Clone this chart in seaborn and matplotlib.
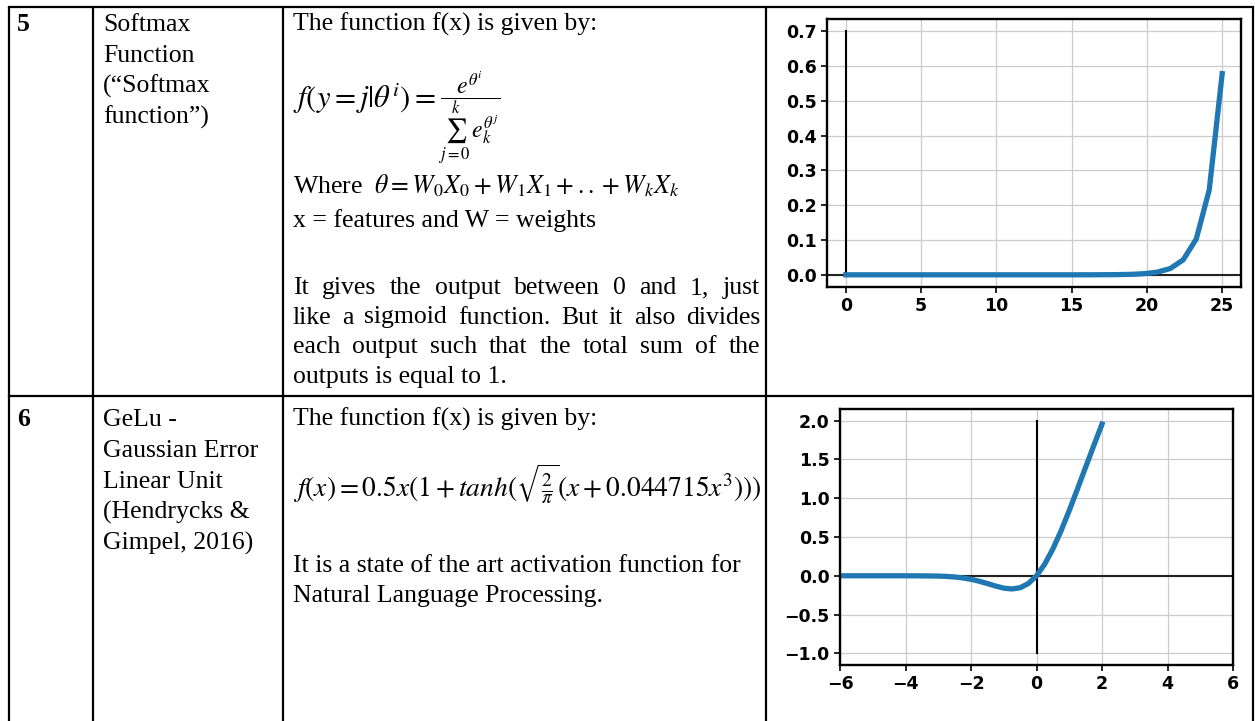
import matplotlib
matplotlib.use("Agg")
import matplotlib.pyplot as plt
from matplotlib.ticker import MultipleLocator
import seaborn as sns

# ---- data ----
softmax_x = [0.0, 0.86, 1.72, 2.59, 3.45, 4.31, 5.17, 6.03, 6.90, 7.76,
             8.62, 9.48, 10.34, 11.21, 12.07, 12.93, 13.79, 14.66, 15.52, 16.38,
             17.24, 18.10, 18.97, 19.83, 20.69, 21.55, 22.41, 23.28, 24.14, 25.0]
softmax_y = [0.0, 0.0, 0.0, 0.0, 0.0, 0.0, 0.0, 0.0, 0.0, 0.0,
             0.0, 0.0, 0.0, 0.0, 0.0, 0.0, 0.0, 0.0, 0.0, 0.0001,
             0.0003, 0.0006, 0.0014, 0.0033, 0.0077, 0.018, 0.043, 0.103, 0.244, 0.578]

gelu_x = [-6.0, -5.0, -4.0, -3.5, -3.0, -2.75, -2.5, -2.25, -2.0, -1.75, -1.5, -1.25,
          -1.0, -0.75, -0.5, -0.25, 0.0, 0.25, 0.5, 0.75, 1.0, 1.25, 1.5, 1.75, 2.0]
gelu_y = [0.0, 0.0, -0.0001, -0.0008, -0.0036, -0.0082, -0.0155, -0.0274, -0.0454, -0.0701,
          -0.100, -0.132, -0.159, -0.170, -0.154, -0.100, 0.0, 0.150, 0.346, 0.580,
          0.841, 1.118, 1.400, 1.680, 1.955]

# ---- table text ----
row5_num, row6_num = "5", "6"
row5_name = ["Softmax", "Function", "(\u201cSoftmax", "function\u201d)"]
row6_name = ["GeLu -", "Gaussian Error", "Linear Unit", "(Hendrycks &", "Gimpel, 2016)"]
row5_intro = "The function f(x) is given by:"
row5_lhs = r"$f(y=j|\theta^i) =$"
row5_frac = r"$\dfrac{e^{\theta^i}}{\sum_{j=0}^{k}\,e_k^{\theta^j}}$"
row5_where = r"Where  $\theta = W_0X_0 + W_1X_1 + ..+ W_kX_k$"
row5_feat = "x = features and W = weights"
row5_para = ["It gives the output between 0 and 1, just",
             "like a sigmoid function. But it also divides",
             "each output such that the total sum of the",
             "outputs is equal to 1."]
row6_intro = "The function f(x) is given by:"
row6_formula = r"$f(x) = 0.5x(1 + tanh(\sqrt{\frac{2}{\pi}}(x + 0.044715x^3)))$"
row6_para = ["It is a state of the art activation function for",
             "Natural Language Processing."]

plt.rcParams["mathtext.fontset"] = "stix"
plt.rcParams["font.family"] = ["DejaVu Sans"]

W, H = 1255, 721
fig = plt.figure(figsize=(W / 100, H / 100), dpi=100)

# background axes in pixel units for the table
bg = fig.add_axes([0, 0, 1, 1])
bg.set_xlim(0, W)
bg.set_ylim(H, 0)
bg.axis("off")

lw_tab = 1.6
for x in [9, 93, 283, 766, 1253]:
    bg.plot([x, x], [7, H], color="black", lw=lw_tab, solid_capstyle="butt")
bg.plot([9, 1253], [7, 7], color="black", lw=lw_tab)
bg.plot([9, 1253], [396, 396], color="black", lw=lw_tab)

serif = dict(family=["Liberation Serif", "DejaVu Serif"], size=18.5, color="black")
bold = dict(serif, weight="bold")

renderer = fig.canvas.get_renderer()


def justify(line, x0, x1, y):
    words = line.split()
    items = [bg.text(x0, y, w, va="baseline", ha="left", **serif) for w in words]
    widths = [t.get_window_extent(renderer).width for t in items]
    gap = (x1 - x0 - sum(widths)) / (len(words) - 1)
    x = x0
    for t, w in zip(items, widths):
        t.set_x(x)
        x += w + gap


# row 5
bg.text(17, 31, row5_num, va="baseline", **bold)
for i, s in enumerate(row5_name):
    bg.text(103, 31 + i * 31, s, va="baseline", **serif)
bg.text(293, 31, row5_intro, va="baseline", **serif)
bg.text(293, 108, row5_lhs, va="baseline", family=serif["family"], size=22)
bg.text(438, 118, row5_frac, va="center", ha="left", family=serif["family"], size=17)
bg.text(293, 193, row5_where, va="baseline", **serif)
bg.text(293, 227, row5_feat, va="baseline", **serif)
for i, s in enumerate(row5_para):
    y = 294 + i * 29.5
    if i < len(row5_para) - 1:
        justify(s, 293, 760, y)
    else:
        bg.text(293, y, s, va="baseline", **serif)

# row 6
bg.text(17, 426, row6_num, va="baseline", **bold)
for i, s in enumerate(row6_name):
    bg.text(103, 426 + i * 31, s, va="baseline", **serif)
bg.text(293, 426, row6_intro, va="baseline", **serif)
bg.text(293, 497, row6_formula, va="baseline", family=serif["family"], size=19.8)
for i, s in enumerate(row6_para):
    bg.text(293, 572 + i * 30, s, va="baseline", **serif)


def style_axes(ax, ystep):
    ax.yaxis.set_major_locator(MultipleLocator(ystep))
    ax.grid(True, color="#cccccc", lw=0.9)
    ax.set_axisbelow(True)
    for sp in ax.spines.values():
        sp.set_linewidth(1.7)
        sp.set_color("black")
    ax.tick_params(width=1.2, length=4, labelsize=12.5, colors="black",
                   labelfontfamily="DejaVu Sans")
    for lab in ax.get_xticklabels() + ax.get_yticklabels():
        lab.set_fontweight("bold")
    ax.set_xlabel("")
    ax.set_ylabel("")


# softmax chart
ax1 = fig.add_axes([827 / W, (H - 287) / H, 414 / W, 268 / H])
ax1.axhline(0, color="#222222", lw=1.5)
ax1.plot([0, 0], [0, 0.7], color="black", lw=1.5)
sns.lineplot(x=softmax_x, y=softmax_y, ax=ax1, color="#1f77b4", linewidth=3.8)
ax1.xaxis.set_major_locator(MultipleLocator(5))
style_axes(ax1, 0.1)

# gelu chart
ax2 = fig.add_axes([840 / W, (H - 665) / H, 393 / W, 256 / H])
ax2.axhline(0, color="#222222", lw=1.5)
ax2.plot([0, 0], [-1, 2], color="black", lw=1.5)
sns.lineplot(x=gelu_x, y=gelu_y, ax=ax2, color="#1f77b4", linewidth=3.8)
ax2.set_xlim(-6, 6)
ax2.xaxis.set_major_locator(MultipleLocator(2))
style_axes(ax2, 0.5)

fig.savefig("out.png", dpi=100, facecolor="white")
